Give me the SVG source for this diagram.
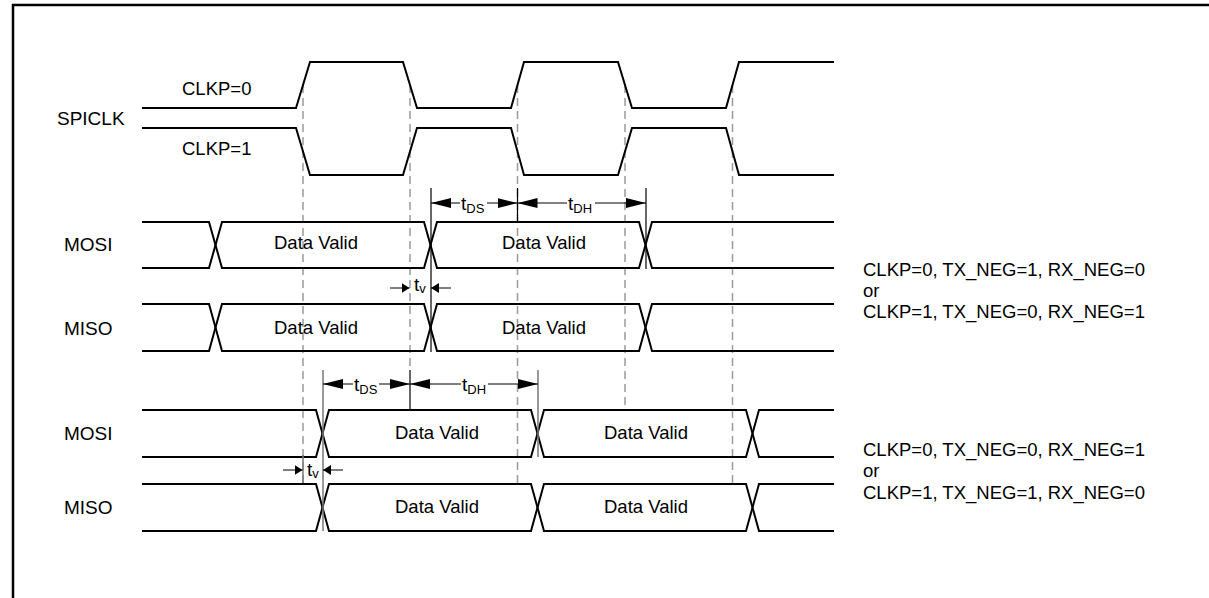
<svg xmlns="http://www.w3.org/2000/svg" width="1209" height="598" viewBox="0 0 1209 598">
<style>
text{font-family:"Liberation Sans",Arial,sans-serif;fill:#000}
.lbl{font-size:19px}
.sig{font-size:18.5px}
.dv{font-size:18.5px;text-anchor:middle}
.t{font-size:19px}
.sub{font-size:13px}
.wave{fill:none;stroke:#000;stroke-width:2}
.dash{stroke:#9a9a9a;stroke-width:1.5;stroke-dasharray:8 5;fill:none}
.ext{stroke:#000;stroke-width:1.2}
.extg{stroke:#777;stroke-width:1.5}
.dim{stroke:#000;stroke-width:1}
.big{marker-end:url(#ah)}
.sm{marker-end:url(#as)}
</style>
<defs>
<marker id="ah" viewBox="0 0 20 10" refX="20" refY="5" markerWidth="20" markerHeight="10" markerUnits="userSpaceOnUse" orient="auto"><path d="M0,0 L20,5 L0,10 z" fill="#000"/></marker>
<marker id="as" viewBox="0 0 8 10" refX="8" refY="5" markerWidth="8" markerHeight="10" markerUnits="userSpaceOnUse" orient="auto"><path d="M0,0 L8,5 L0,10 z" fill="#000"/></marker>
</defs>
<rect x="13" y="5" width="1210" height="610" fill="#fff" stroke="#000" stroke-width="2.5"/>

<g id="guides">
<line class="dash" x1="303" y1="85" x2="303" y2="483"/>
<line class="dash" x1="410" y1="85" x2="410" y2="370"/>
<line class="dash" x1="517.5" y1="85" x2="517.5" y2="483"/>
<line class="dash" x1="625" y1="85" x2="625" y2="407"/>
<line class="dash" x1="732.5" y1="85" x2="732.5" y2="483"/>
</g>

<g id="spiclk">
<text class="lbl" x="57" y="125">SPICLK</text>
<text class="sig" x="182" y="95">CLKP=0</text>
<text class="sig" x="182" y="155">CLKP=1</text>
<path class="wave" d="M142,108 H296 L310,62 H403 L417,108 H511 L524,62 H618 L632,108 H726 L739,62 H834"/>
<path class="wave" d="M142,128 H296 L310,175 H403 L417,128 H511 L524,175 H618 L632,128 H726 L739,175 H834"/>
</g>

<g id="mosi1">
<text class="lbl" x="64" y="251">MOSI</text>
<path class="wave" d="M142,222 H209 L222,268 H424 L437,222 H639 L652,268 H834"/>
<path class="wave" d="M142,268 H209 L222,222 H424 L437,268 H639 L652,222 H834"/>
<text class="dv" x="316" y="249">Data Valid</text>
<text class="dv" x="544" y="249">Data Valid</text>
</g>

<g id="miso1">
<text class="lbl" x="64" y="335">MISO</text>
<path class="wave" d="M142,304 H209 L222,351 H424 L437,304 H639 L652,351 H834"/>
<path class="wave" d="M142,351 H209 L222,304 H424 L437,351 H639 L652,304 H834"/>
<text class="dv" x="316" y="334">Data Valid</text>
<text class="dv" x="544" y="334">Data Valid</text>
</g>

<g id="mosi2">
<text class="lbl" x="64" y="440">MOSI</text>
<path class="wave" d="M142,410 H316 L329,457 H531 L544,410 H746 L759,457 H834"/>
<path class="wave" d="M142,457 H316 L329,410 H531 L544,457 H746 L759,410 H834"/>
<text class="dv" x="437" y="439">Data Valid</text>
<text class="dv" x="646" y="439">Data Valid</text>
</g>

<g id="miso2">
<text class="lbl" x="64" y="514">MISO</text>
<path class="wave" d="M142,484 H316 L329,531 H531 L544,484 H746 L759,531 H834"/>
<path class="wave" d="M142,531 H316 L329,484 H531 L544,531 H746 L759,484 H834"/>
<text class="dv" x="437" y="513">Data Valid</text>
<text class="dv" x="646" y="513">Data Valid</text>
</g>

<g id="mode1-note">
<text class="sig" x="863" y="276">CLKP=0, TX_NEG=1, RX_NEG=0</text>
<text class="sig" x="863" y="297">or</text>
<text class="sig" x="863" y="318">CLKP=1, TX_NEG=0, RX_NEG=1</text>
</g>
<g id="mode2-note">
<text class="sig" x="863" y="456">CLKP=0, TX_NEG=0, RX_NEG=1</text>
<text class="sig" x="863" y="477">or</text>
<text class="sig" x="863" y="499">CLKP=1, TX_NEG=1, RX_NEG=0</text>
</g>

<g id="connectors">
<line class="ext" x1="431" y1="188" x2="431" y2="352"/>
<line class="ext" x1="517.5" y1="188" x2="517.5" y2="222"/>
<line class="ext" x1="646" y1="188" x2="646" y2="269"/>
<line class="dim big" x1="460" y1="203" x2="431" y2="203"/>
<line class="dim big" x1="487" y1="203" x2="517.5" y2="203"/>
<line class="dim big" x1="567" y1="203" x2="517.5" y2="203"/>
<line class="dim big" x1="595" y1="203" x2="646" y2="203"/>
<line class="dim sm" x1="390" y1="288" x2="409.5" y2="288"/>
<line class="dim sm" x1="451" y1="288" x2="431" y2="288"/>

<line class="extg" x1="323" y1="370" x2="323" y2="531"/>
<line class="ext" x1="410" y1="370" x2="410" y2="410"/>
<line class="extg" x1="538" y1="370" x2="538" y2="457"/>
<line class="extg" x1="303" y1="455" x2="303" y2="483"/>
<line class="dim big" x1="353" y1="384" x2="323" y2="384"/>
<line class="dim big" x1="379" y1="384" x2="410" y2="384"/>
<line class="dim big" x1="461" y1="384" x2="410" y2="384"/>
<line class="dim big" x1="488" y1="384" x2="538" y2="384"/>
<line class="dim sm" x1="283" y1="470" x2="302.5" y2="470"/>
<line class="dim sm" x1="343" y1="470" x2="323" y2="470"/>
</g>

<g id="timing-labels">
<text class="t" x="461" y="210">t<tspan class="sub" dy="3">DS</tspan></text>
<text class="t" x="568" y="210">t<tspan class="sub" dy="3">DH</tspan></text>
<text class="t" x="414" y="291">t<tspan class="sub" dy="2">v</tspan></text>
<text class="t" x="354" y="391">t<tspan class="sub" dy="3">DS</tspan></text>
<text class="t" x="462" y="391">t<tspan class="sub" dy="3">DH</tspan></text>
<text class="t" x="307" y="476">t<tspan class="sub" dy="2">v</tspan></text>
</g>
</svg>
